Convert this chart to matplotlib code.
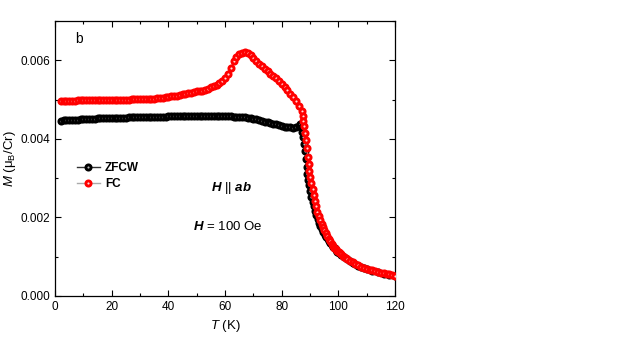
import numpy as np
import matplotlib
matplotlib.use('Agg')
import matplotlib.pyplot as plt

# magnetization data, M in units of 1e-3 muB/Cr
T_zfcw = [2, 3, 4, 5, 6, 7, 8, 9, 10, 11, 12, 13, 14, 15, 16, 17, 18, 19, 20,
          21, 22, 23, 24, 25, 26, 27, 28, 29, 30, 31, 32, 33, 34, 35, 36, 37, 38, 39, 40,
          41, 42, 43, 44, 45, 46, 47, 48, 49, 50, 51, 52, 53, 54, 55, 56, 57, 58, 59, 60,
          61, 62, 63, 64, 65, 66, 67, 68, 69, 70, 71, 72, 73, 74, 75, 76, 77, 78, 79, 80,
          81, 82, 83, 84, 85, 86, 86.6, 87.0, 87.3, 87.6, 87.9, 88.2, 88.5, 88.8, 89.1,
          89.4, 89.7, 90.1, 90.5, 90.9, 91.3, 91.7, 92.2, 92.7, 93.2, 93.7, 94.2, 94.7,
          95.2, 95.7, 96.2, 96.7, 97.2, 97.7, 98.2, 98.7, 99.2, 99.7, 100.2, 101, 102, 103,
          104, 105, 106, 107, 108, 109, 110, 112, 114, 116, 118, 120]
M_zfcw = [4.46, 4.47, 4.47, 4.48, 4.48, 4.49, 4.49, 4.50, 4.50, 4.50, 4.51, 4.51, 4.51, 4.52, 4.52, 4.52, 4.53, 4.53, 4.53,
          4.53, 4.54, 4.54, 4.54, 4.54, 4.55, 4.55, 4.55, 4.55, 4.55, 4.56, 4.56, 4.56, 4.56, 4.56, 4.56, 4.56, 4.56, 4.56, 4.57,
          4.57, 4.57, 4.57, 4.57, 4.57, 4.57, 4.57, 4.57, 4.57, 4.57, 4.57, 4.57, 4.57, 4.57, 4.57, 4.57, 4.57, 4.57, 4.57, 4.57,
          4.57, 4.57, 4.56, 4.56, 4.56, 4.55, 4.55, 4.54, 4.53, 4.51, 4.50, 4.48, 4.46, 4.44, 4.43, 4.41, 4.39, 4.37, 4.35, 4.33,
          4.31, 4.30, 4.29, 4.28, 4.29, 4.33, 4.38, 4.30, 4.18, 4.04, 3.87, 3.68, 3.48, 3.28, 3.11,
          2.96, 2.82, 2.67, 2.53, 2.40, 2.28, 2.17, 2.05, 1.95, 1.86, 1.77, 1.70, 1.63,
          1.56, 1.50, 1.44, 1.39, 1.34, 1.29, 1.25, 1.21, 1.17, 1.13, 1.10, 1.05, 0.99, 0.94,
          0.89, 0.85, 0.81, 0.77, 0.74, 0.71, 0.68, 0.64, 0.60, 0.57, 0.54, 0.51]

T_fc = [2, 3, 4, 5, 6, 7, 8, 9, 10, 11, 12, 13, 14, 15, 16, 17, 18, 19, 20,
        21, 22, 23, 24, 25, 26, 27, 28, 29, 30, 31, 32, 33, 34, 35, 36, 37, 38, 39, 40,
        41, 42, 43, 44, 45, 46, 47, 48, 49, 50, 51, 52, 53, 54, 55, 56, 57, 58, 59, 60,
        61, 62, 63, 64, 65, 66, 67, 68, 69, 70, 71, 72, 73, 74, 75, 76, 77, 78, 79, 80,
        81, 82, 83, 84, 85, 86, 87.0, 87.4, 87.7, 88.0, 88.3, 88.6, 88.9, 89.2, 89.5,
        89.8, 90.1, 90.5, 90.9, 91.3, 91.7, 92.1, 92.6, 93.1, 93.6, 94.1, 94.6, 95.1,
        95.6, 96.1, 96.6, 97.1, 97.6, 98.1, 98.6, 99.1, 99.6, 100.1, 100.6, 101.1, 101.6,
        102.1, 102.6, 103.1, 104, 105, 106, 107, 108, 109, 110, 111, 112, 113, 114, 115,
        116, 117, 118, 119, 120]
M_fc = [4.97, 4.97, 4.97, 4.97, 4.97, 4.97, 4.98, 4.98, 4.98, 4.98, 4.98, 4.98, 4.98, 4.98, 4.99, 4.99, 4.99, 4.99, 4.99,
        5.00, 5.00, 5.00, 5.00, 5.00, 5.00, 5.01, 5.01, 5.01, 5.01, 5.01, 5.02, 5.02, 5.02, 5.02, 5.03, 5.04, 5.05, 5.06, 5.07,
        5.08, 5.09, 5.10, 5.11, 5.13, 5.15, 5.17, 5.18, 5.19, 5.21, 5.22, 5.23, 5.25, 5.27, 5.31, 5.35, 5.38, 5.42, 5.48, 5.54,
        5.64, 5.80, 5.97, 6.08, 6.15, 6.19, 6.20, 6.19, 6.14, 6.06, 5.98, 5.91, 5.85, 5.78, 5.72, 5.66, 5.60, 5.54, 5.47, 5.40,
        5.32, 5.24, 5.15, 5.06, 4.96, 4.84, 4.70, 4.58, 4.46, 4.32, 4.15, 3.97, 3.76, 3.55, 3.36,
        3.18, 3.02, 2.87, 2.72, 2.58, 2.42, 2.30, 2.15, 2.03, 1.93, 1.84, 1.76, 1.68,
        1.60, 1.52, 1.45, 1.39, 1.33, 1.28, 1.23, 1.19, 1.15, 1.12, 1.09, 1.06, 1.03,
        1.00, 0.97, 0.94, 0.90, 0.86, 0.82, 0.78, 0.75, 0.72, 0.69, 0.67, 0.65, 0.63, 0.61, 0.59,
        0.58, 0.56, 0.55, 0.53, 0.52]

plt.rcParams['font.family'] = ['Liberation Sans', 'DejaVu Sans']
plt.rcParams['mathtext.fontset'] = 'custom'
plt.rcParams['mathtext.rm'] = 'Liberation Sans'
plt.rcParams['mathtext.it'] = 'Liberation Sans:italic'
plt.rcParams['mathtext.bf'] = 'Liberation Sans:bold'
plt.rcParams['mathtext.bfit'] = 'Liberation Sans:italic:bold'

fig = plt.figure(figsize=(6.23, 3.5), dpi=100)
ax = fig.add_axes([55 / 623, 1 - 296 / 350, 340 / 623, 275 / 350])

ax.plot(T_zfcw, np.array(M_zfcw) * 1e-3, '-o', color='#333333', lw=1,
        ms=3.7, mec='black', mfc='#bbbbbb', mew=2.1, label='ZFCW', zorder=2)
ax.plot(T_fc, np.array(M_fc) * 1e-3, '-o', color='#aaaaaa', lw=1,
        ms=3.7, mec='#ff0000', mfc='#ffdddd', mew=2.1, label='FC', zorder=3)

ax.set_xlim(0, 120)
ax.set_ylim(0, 0.007)
ax.set_xticks([0, 20, 40, 60, 80, 100, 120])
ax.set_xticks(np.arange(10, 120, 20), minor=True)
ax.set_yticks([0, 0.002, 0.004, 0.006])
ax.set_yticklabels(['0.000', '0.002', '0.004', '0.006'])
ax.set_yticks([0.001, 0.003, 0.005, 0.007], minor=True)
ax.tick_params(which='both', direction='in', top=True, right=True, labelsize=8.5)
ax.tick_params(which='major', length=4, width=0.8)
ax.tick_params(which='minor', length=2.5, width=0.8)
for s in ax.spines.values():
    s.set_linewidth(0.9)

ax.set_xlabel(r'$T$ (K)', fontsize=9.5, labelpad=4)
ax.set_ylabel(r'$M$ (μ$_\mathrm{B}$/Cr)', fontsize=9.5, labelpad=2)

ax.legend(loc='upper left', bbox_to_anchor=(0.032, 0.527), frameon=False,
          prop={'size': 8.5, 'weight': 'bold'}, handlelength=2.0,
          handletextpad=0.4, labelspacing=0.35)

ax.text(0.058, 0.935, 'b', transform=ax.transAxes, fontsize=10, va='center')
ax.text(0.52, 0.393, r'$\mathbfit{H}$ || $\mathbfit{ab}$', transform=ax.transAxes,
        fontsize=9.5, ha='center', va='center')
ax.text(0.509, 0.251, r'$\mathbfit{H}$ = 100 Oe', transform=ax.transAxes,
        fontsize=9.5, ha='center', va='center')

fig.savefig('out.png', dpi=100)
